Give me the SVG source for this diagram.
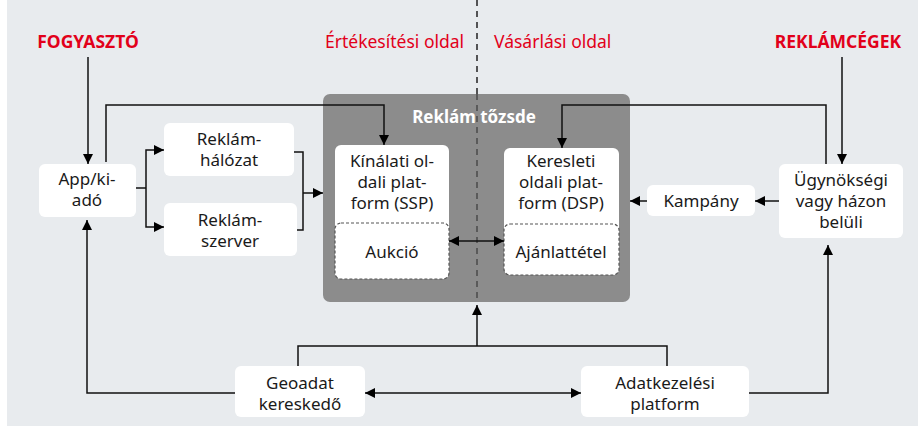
<svg xmlns="http://www.w3.org/2000/svg" width="919" height="427" viewBox="0 0 919 427">
<defs>
<marker id="ah" viewBox="0 0 10 10" refX="10" refY="5" markerWidth="10" markerHeight="10" markerUnits="userSpaceOnUse" orient="auto-start-reverse">
<path d="M0,0 L10,5 L0,10 Z" fill="#000"/>
</marker>
<style>
.bg{fill:#e8ebee}
.nd{fill:#fff}
.t{font-family:"Noto Sans","Open Sans",sans-serif;font-size:17px;fill:#1a1a1a;text-anchor:middle}
.red{font-family:"Noto Sans",sans-serif;font-size:17.5px;fill:#e2001a}
.redb{font-family:"Noto Sans",sans-serif;font-size:17.5px;font-weight:bold;fill:#e2001a;text-anchor:middle}
.c{fill:none;stroke:#111;stroke-width:1.5}
.dash{fill:#fff;stroke:#555;stroke-width:1.2;stroke-dasharray:3 2}
</style>
</defs>
<rect x="7" y="0" width="911" height="426" class="bg"/>

<text x="88" y="48" class="redb">FOGYASZTÓ</text>
<text x="325" y="48" class="red">Értékesítési oldal</text>
<text x="494" y="48" class="red">Vásárlási oldal</text>
<text x="838" y="48" class="redb">REKLÁMCÉGEK</text>

<g id="exchange">
<rect x="323" y="94" width="307" height="208" rx="7" fill="#8c8c8c"/>
<text x="474" y="123" style="font-family:'Noto Sans',sans-serif;font-size:17px;font-weight:bold;fill:#fff;text-anchor:middle">Reklám tőzsde</text>
</g>
<line x1="477" y1="0" x2="477" y2="94" stroke="#222" stroke-width="1.5" stroke-dasharray="6 5"/>
<line x1="477" y1="94" x2="477" y2="302" stroke="#4a4a4a" stroke-width="1.5" stroke-dasharray="6 5"/>

<g id="ssp">
<rect x="335" y="145" width="114" height="134" rx="6" class="nd"/>
<text class="t" x="392" y="167">Kínálati ol-</text>
<text class="t" x="392" y="188">dali plat-</text>
<text class="t" x="392" y="209">form (SSP)</text>
</g>
<g id="aukcio">
<rect x="335" y="223" width="114" height="56" rx="6" class="dash"/>
<text class="t" x="392" y="258">Aukció</text>
</g>
<g id="dsp">
<rect x="504" y="148" width="115" height="127" rx="6" class="nd"/>
<text class="t" x="561" y="167">Keresleti</text>
<text class="t" x="561" y="188">oldali plat-</text>
<text class="t" x="561" y="209">form (DSP)</text>
</g>
<g id="ajanlat">
<rect x="504" y="224" width="115" height="51" rx="6" class="dash"/>
<text class="t" x="561" y="258">Ajánlattétel</text>
</g>

<g id="app">
<rect x="39" y="164" width="97" height="53" rx="6" class="nd"/>
<text class="t" x="87" y="185">App/ki-</text>
<text class="t" x="87" y="206">adó</text>
</g>
<g id="halozat">
<rect x="164" y="123" width="130" height="53" rx="6" class="nd"/>
<text class="t" x="229" y="145">Reklám-</text>
<text class="t" x="229" y="166">hálózat</text>
</g>
<g id="szerver">
<rect x="164" y="203" width="133" height="53" rx="6" class="nd"/>
<text class="t" x="230" y="226">Reklám-</text>
<text class="t" x="230" y="247">szerver</text>
</g>
<g id="ugynoksegi">
<rect x="779" y="164" width="124" height="74" rx="6" class="nd"/>
<text class="t" x="841" y="186">Ügynökségi</text>
<text class="t" x="841" y="207">vagy házon</text>
<text class="t" x="841" y="228">belüli</text>
</g>
<g id="kampany">
<rect x="647" y="185" width="108" height="31" rx="6" class="nd"/>
<text class="t" x="701" y="207">Kampány</text>
</g>
<g id="geoadat">
<rect x="235" y="366" width="130" height="51" rx="6" class="nd"/>
<text class="t" x="300" y="389">Geoadat</text>
<text class="t" x="300" y="410">kereskedő</text>
</g>
<g id="adatkezelesi">
<rect x="581" y="366" width="168" height="51" rx="6" class="nd"/>
<text class="t" x="665" y="389">Adatkezelési</text>
<text class="t" x="665" y="410">platform</text>
</g>

<g id="connectors">
<path class="c" d="M88,57 V164" marker-end="url(#ah)"/>
<path class="c" d="M842,57 V164" marker-end="url(#ah)"/>
<path class="c" d="M106,162 V105 H384 V145" marker-end="url(#ah)"/>
<path class="c" d="M826,164 V105 H562 V148" marker-end="url(#ah)"/>
<path class="c" d="M136,188 H146"/>
<path class="c" d="M164,150 H146 V227 H164" marker-start="url(#ah)" marker-end="url(#ah)"/>
<path class="c" d="M294,152 H303 V230 H297"/>
<path class="c" d="M303,193 H323" marker-end="url(#ah)"/>
<path class="c" d="M779,201 H755" marker-end="url(#ah)"/>
<path class="c" d="M647,201 H630" marker-end="url(#ah)"/>
<path class="c" d="M449,241 H504" marker-start="url(#ah)" marker-end="url(#ah)"/>
<path class="c" d="M365,393 H581" marker-start="url(#ah)" marker-end="url(#ah)"/>
<path class="c" d="M235,393 H87 V220" marker-end="url(#ah)"/>
<path class="c" d="M749,393 H828 V245" marker-end="url(#ah)"/>
<path class="c" d="M298,366 V346 H667 V366"/>
<path class="c" d="M477,346 V305" marker-end="url(#ah)"/>
</g>
</svg>
